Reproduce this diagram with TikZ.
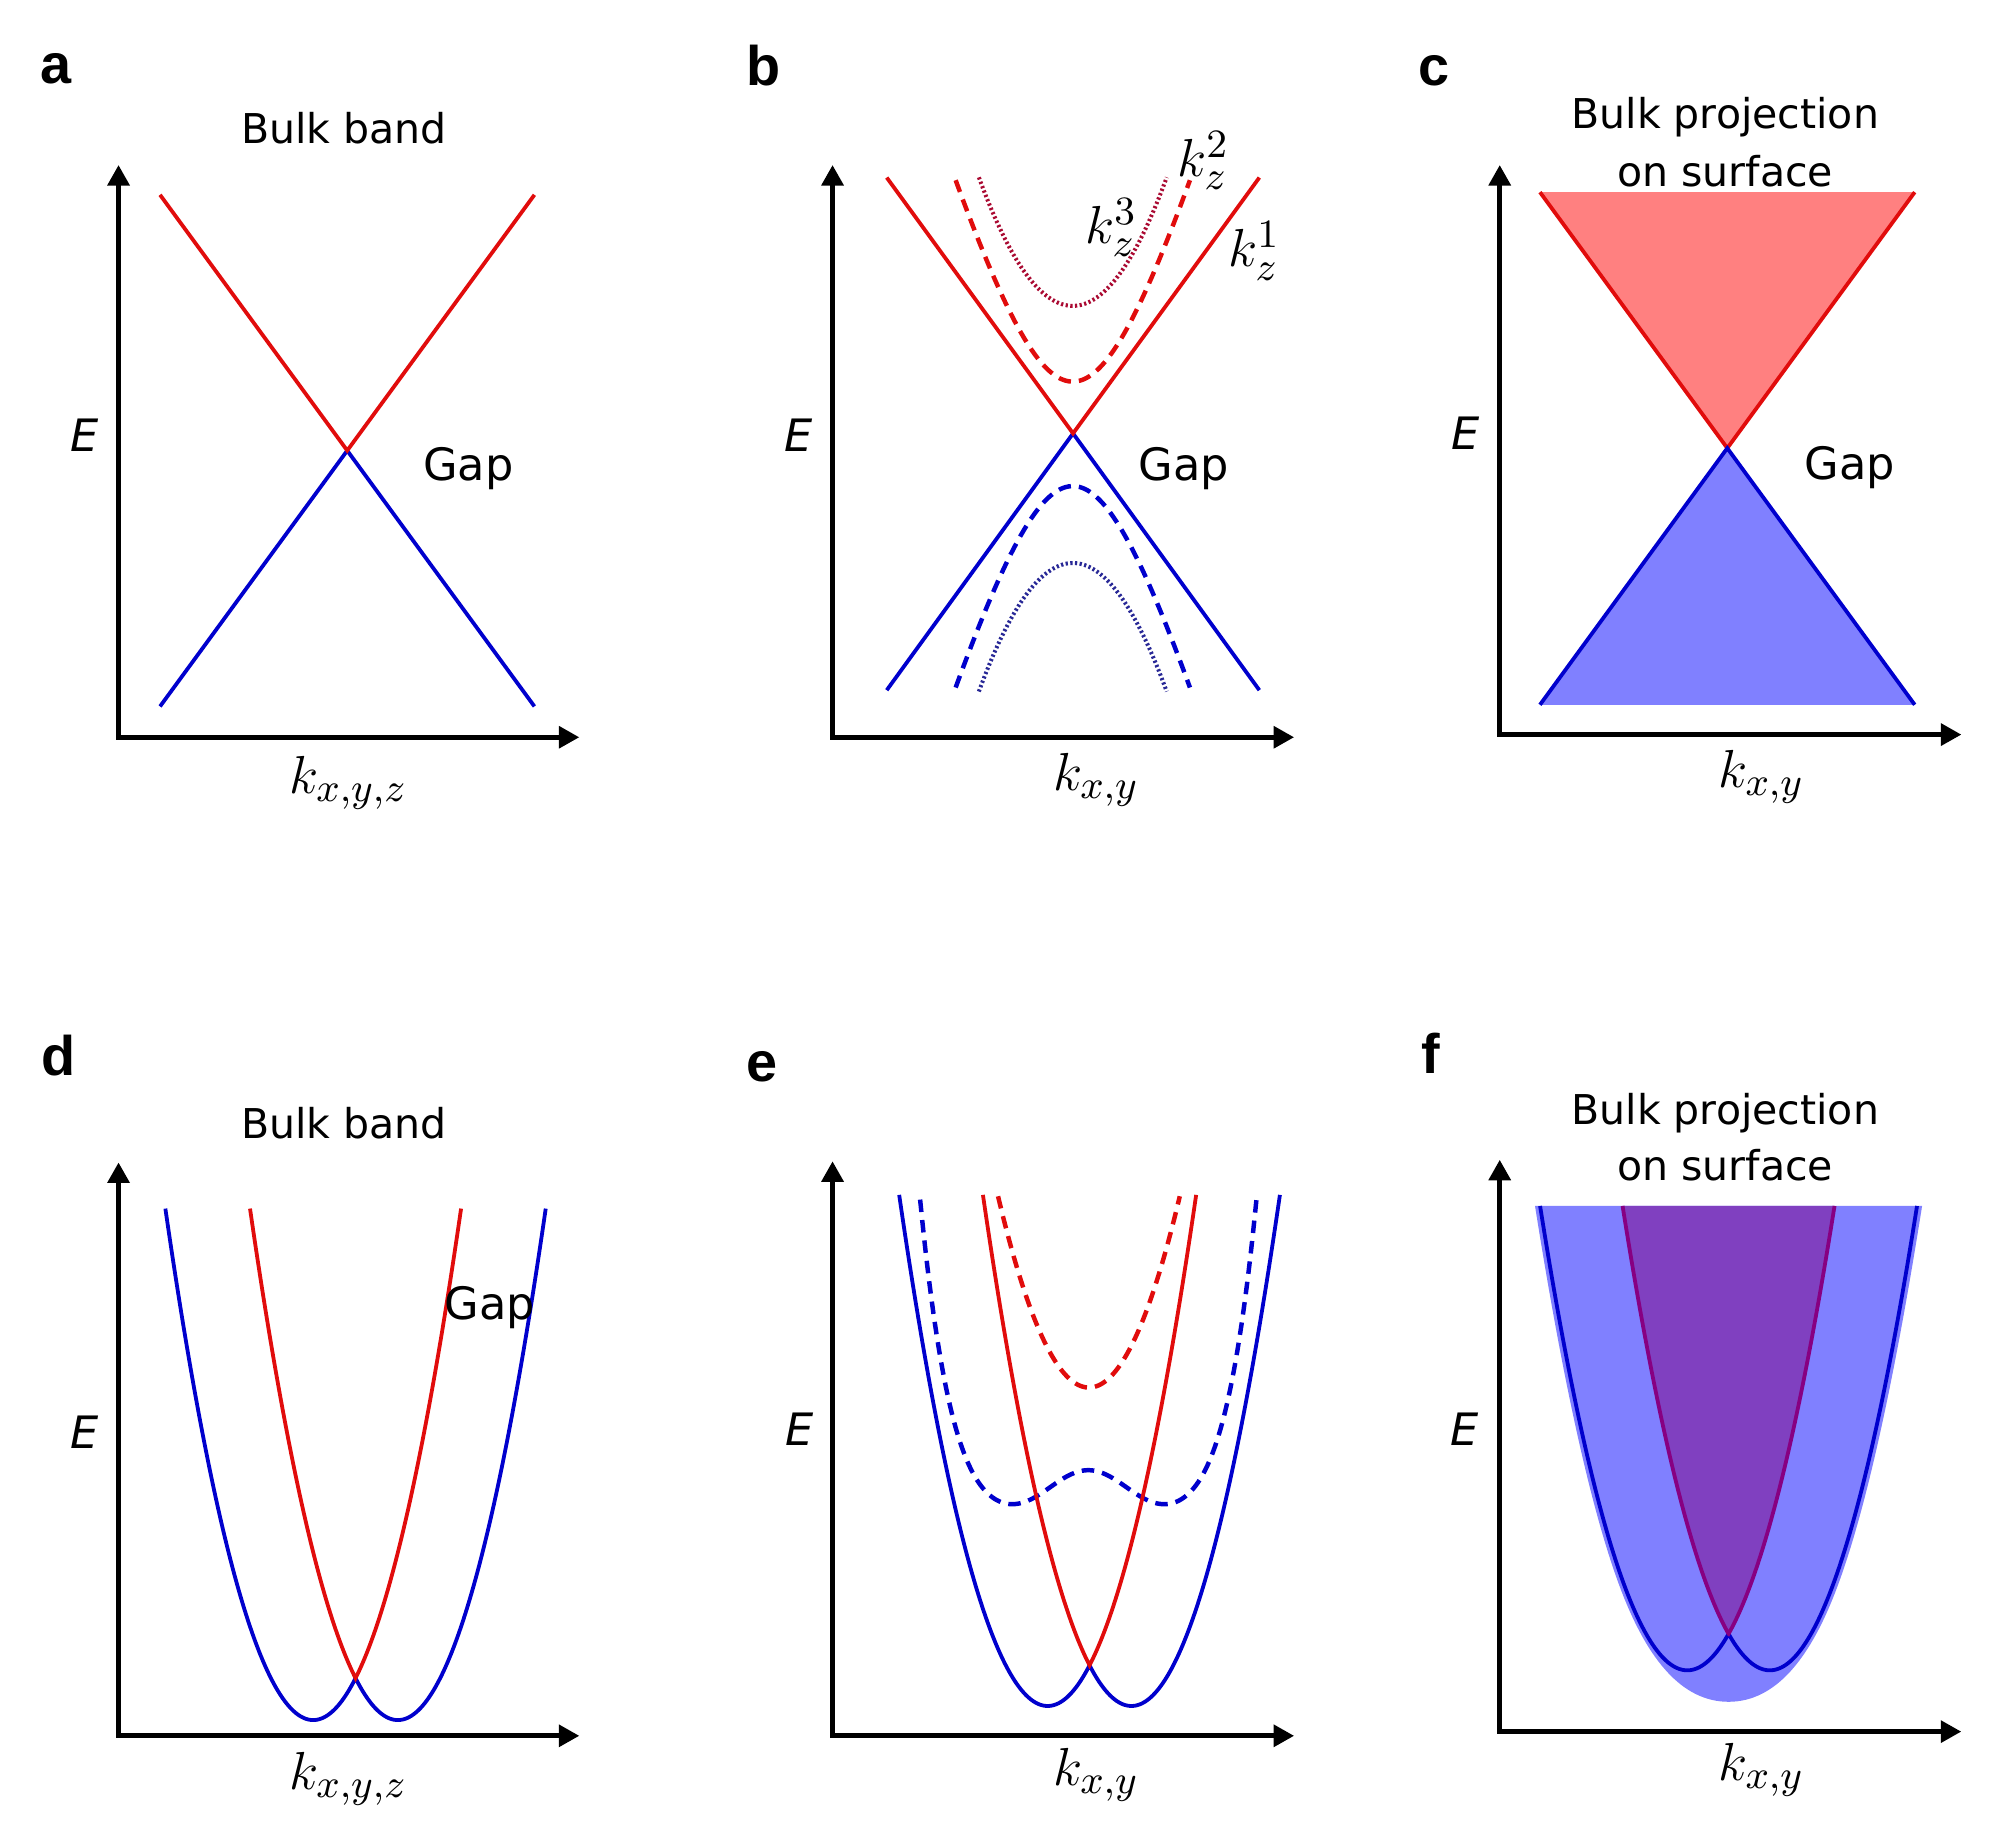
\documentclass[tikz,border=0pt]{standalone}
\usepackage{fontspec}
\setsansfont{DejaVu Sans}[ItalicFont={DejaVu Sans Oblique},BoldFont={DejaVu Sans Bold}]
\newfontfamily\lblfont{Liberation Sans}
\usetikzlibrary{arrows.meta}
\DeclareMathSizes{11.5}{11.5}{8.8}{6.5}
\definecolor{redl}{RGB}{225,12,12}
\definecolor{bluel}{RGB}{0,0,205}
\definecolor{rdotc}{RGB}{170,10,50}
\definecolor{bdotc}{RGB}{40,40,150}
\definecolor{redfill}{RGB}{255,128,128}
\definecolor{bluefill}{RGB}{128,128,255}
\definecolor{purfill}{RGB}{128,64,192}
\definecolor{purline}{RGB}{135,0,130}
\tikzset{
  axis/.style={line width=1.1pt, line join=miter, {Triangle[length=4.6pt,width=4.8pt]}-{Triangle[length=4.6pt,width=4.8pt]}},
  rline/.style={draw=redl, line width=0.85pt},
  bline/.style={draw=bluel, line width=0.85pt},
  dashline/.style={line width=1pt, dash pattern=on 2.8pt off 1.8pt},
  dotline/.style={line width=0.9pt, dash pattern=on 0.5pt off 0.55pt},
  plab/.style={font=\lblfont\bfseries\fontsize{12.5}{14}\selectfont, inner sep=0pt, anchor=base},
  ttl/.style={font=\sffamily\fontsize{9.2}{11}\selectfont, inner sep=0pt, anchor=base},
  gaplab/.style={font=\sffamily\fontsize{10}{12}\selectfont, inner sep=0pt, anchor=base},
  elab/.style={font=\sffamily\itshape\fontsize{10}{12}\selectfont, inner sep=0pt},
  klab/.style={font=\fontsize{11.5}{14}\selectfont, inner sep=0pt, anchor=base},
}
\begin{document}
\begin{tikzpicture}[x=0.01cm,y=-0.01cm]
\useasboundingbox (0,0) rectangle (1568,1435);

% ================= panel a =================
\coordinate (aO) at (93.4,580.9);
\coordinate (aY) at (93.4,130);
\coordinate (aX) at (456.5,580.9);
\coordinate (aRL) at (126.1,153.5);
\coordinate (aRR) at (421.1,153.5);
\coordinate (aV) at (273.6,355);
\coordinate (aBL) at (126.1,556.6);
\coordinate (aBR) at (421.1,556.6);
\draw[bline] (aBL) -- (aV) -- (aBR);
\draw[rline] (aRL) -- (aV) -- (aRR);
\draw[axis] (aY) -- (aO) -- (aX);
\node[plab] (la) at (44.4,66.1) {a};
\node[ttl] (ta) at (271.1,113) {Bulk band};
\node[gaplab] (ga) at (369.1,378.7) {Gap};
\node[elab] (ea) at (66.7,343.3) {E};
\node[klab] (ka) at (274.5,625) {$k_{x,y,z}$};

% ================= panel b =================
\coordinate (bO) at (656,580.9);
\coordinate (bY) at (656,130);
\coordinate (bX) at (1019.7,580.9);
\coordinate (bRL) at (698.7,139.9);
\coordinate (bRR) at (992.3,139.9);
\coordinate (bV) at (845.5,341.5);
\coordinate (bBL) at (698.7,543.8);
\coordinate (bBR) at (992.3,543.8);
\draw[rline,dashline] plot[domain=-92.3:92.3,samples=90] ({845.3+\x},{300.7-100*(sqrt(5.2441+11.49*(\x/100)*(\x/100))-2.29)});
\draw[bline,dashline] plot[domain=-92.3:92.3,samples=90] ({845.3+\x},{383+100*(sqrt(5.2441+11.49*(\x/100)*(\x/100))-2.29)});
\draw[draw=rdotc,dotline] plot[domain=-74:74,samples=90] ({845.3+\x},{241-0.0185*\x*\x});
\draw[draw=bdotc,dotline] plot[domain=-74:74,samples=90] ({845.3+\x},{443.6+0.0185*\x*\x});
\draw[bline] (bBL) -- (bV) -- (bBR);
\draw[rline] (bRL) -- (bV) -- (bRR);
\draw[axis] (bY) -- (bO) -- (bX);
\node[plab] (lb) at (601.6,67.4) {b};
\node[gaplab] (gb) at (932.9,378.7) {Gap};
\node[elab] (eb) at (629.3,343.3) {E};
\node[klab] (kb) at (863.7,622.7) {$k_{x,y}$};
\node[klab,anchor=base west] (kz2) at (927,139.2) {$k_z^2$};
\node[klab,anchor=base west] (kz3) at (854.5,191.9) {$k_z^3$};
\node[klab,anchor=base west] (kz1) at (967.1,210.2) {$k_z^1$};

% ================= panel c =================
\coordinate (cO) at (1181.7,578.8);
\coordinate (cY) at (1181.7,130);
\coordinate (cX) at (1545.5,578.8);
\coordinate (cRL) at (1213.4,151.4);
\coordinate (cRR) at (1508.7,151.4);
\coordinate (cV) at (1361,353.1);
\coordinate (cBL) at (1213.4,555.3);
\coordinate (cBR) at (1508.7,555.3);
\fill[redfill] (cRL) -- (cRR) -- (cV) -- cycle;
\fill[bluefill] (cBL) -- (cBR) -- (cV) -- cycle;
\draw[rline] (cRL) -- (cV) -- (cRR);
\draw[bline] (cBL) -- (cV) -- (cBR);
\draw[axis] (cY) -- (cO) -- (cX);
\node[plab] (lc) at (1130,67.4) {c};
\node[ttl] (tc1) at (1359.4,101) {Bulk projection};
\node[ttl] (tc2) at (1359.4,147.1) {on surface};
\node[gaplab] (gc) at (1457.4,377.5) {Gap};
\node[elab] (ec) at (1155,341.2) {E};
\node[klab] (kc) at (1387.8,620.6) {$k_{x,y}$};

% ================= panel d =================
\coordinate (dO) at (93.4,1367.7);
\coordinate (dY) at (93.4,915.9);
\coordinate (dX) at (456.5,1367.7);
\draw[bline] plot[domain=-116.5:33.35,samples=100] ({246.8+\x},{1355.3-0.0297*\x*\x})
  -- plot[domain=-33.35:116.5,samples=100] ({313.5+\x},{1355.3-0.0297*\x*\x});
\draw[rline] plot[domain=-116.5:-33.35,samples=70] ({313.5+\x},{1355.3-0.0297*\x*\x})
  -- plot[domain=33.35:116.5,samples=70] ({246.8+\x},{1355.3-0.0297*\x*\x});
\draw[axis] (dY) -- (dO) -- (dX);
\node[plab] (ld) at (45.9,847.5) {d};
\node[ttl] (td) at (271.1,897.3) {Bulk band};
\node[gaplab] (gd) at (385.8,1039.7) {Gap};
\node[elab] (ed) at (66.7,1128.4) {E};
\node[klab] (kd) at (274.5,1410) {$k_{x,y,z}$};

% ================= panel e =================
\coordinate (eO) at (656,1367.7);
\coordinate (eY) at (656,915);
\coordinate (eX) at (1019.7,1367.7);
\draw[rline,dashline] plot[domain=-71.6:71.6,samples=80] ({858+\x},{1093.3-0.0294*\x*\x});
\draw[bline,dashline] plot[domain=-132.5:-60,samples=50] ({857.5+\x},{1185.2-2.128*((-\x-60)/10)*((-\x-60)/10)-0.04638*((-\x-60)/10)*((-\x-60)/10)*((-\x-60)/10)*((-\x-60)/10)})
  -- plot[domain=-60:60,samples=60] ({857.5+\x},{1185.2-13.4*(1+cos(3*\x))})
  -- plot[domain=60:132.5,samples=50] ({857.5+\x},{1185.2-2.128*((\x-60)/10)*((\x-60)/10)-0.04638*((\x-60)/10)*((\x-60)/10)*((\x-60)/10)*((\x-60)/10)});
\draw[bline] plot[domain=-117:33,samples=100] ({825.5+\x},{1344.2-0.02942*\x*\x})
  -- plot[domain=-33:117,samples=100] ({891.5+\x},{1344.2-0.02942*\x*\x});
\draw[rline] plot[domain=-117:-33,samples=70] ({891.5+\x},{1344.2-0.02942*\x*\x})
  -- plot[domain=33:117,samples=70] ({825.5+\x},{1344.2-0.02942*\x*\x});
\draw[axis] (eY) -- (eO) -- (eX);
\node[plab] (le) at (600.6,852) {e};
\node[elab] (ee) at (630,1126.3) {E};
\node[klab] (ke) at (863.7,1406.9) {$k_{x,y}$};

% ================= panel f =================
\coordinate (fO) at (1181.7,1364.4);
\coordinate (fY) at (1181.7,913.8);
\coordinate (fX) at (1545.4,1364.4);
\fill[bluefill] (1209.5,950.2) -- (1514.5,950.2)
  -- plot[domain=116:45,samples=60] ({1398.5+\x},{1316.1-0.02719*\x*\x})
  .. controls (1425.5,1305) and (1400,1340.9) .. (1362,1340.9)
  .. controls (1324,1340.9) and (1298.5,1305) .. (1280.5,1261)
  -- plot[domain=45:116,samples=60] ({1325.5-\x},{1316.1-0.02719*\x*\x}) -- cycle;
\fill[purfill] plot[domain=-116:-32.5,samples=70] ({1394.5+\x},{1316.1-0.02719*\x*\x})
  -- plot[domain=32.5:116,samples=70] ({1329.5+\x},{1316.1-0.02719*\x*\x}) -- cycle;
\draw[bline] plot[domain=-116:32.5,samples=100] ({1329.5+\x},{1316.1-0.02719*\x*\x})
  -- plot[domain=-32.5:116,samples=100] ({1394.5+\x},{1316.1-0.02719*\x*\x});
\draw[draw=purline,line width=0.85pt] plot[domain=-116:-32.5,samples=70] ({1394.5+\x},{1316.1-0.02719*\x*\x})
  -- plot[domain=32.5:116,samples=70] ({1329.5+\x},{1316.1-0.02719*\x*\x});
\draw[axis] (fY) -- (fO) -- (fX);
\node[plab] (lf) at (1127.2,845.8) {f};
\node[ttl] (tf1) at (1359.4,885.8) {Bulk projection};
\node[ttl] (tf2) at (1359.4,930.3) {on surface};
\node[elab] (ef) at (1154.4,1126.3) {E};
\node[klab] (kf) at (1387.8,1402.8) {$k_{x,y}$};
\end{tikzpicture}
\end{document}
